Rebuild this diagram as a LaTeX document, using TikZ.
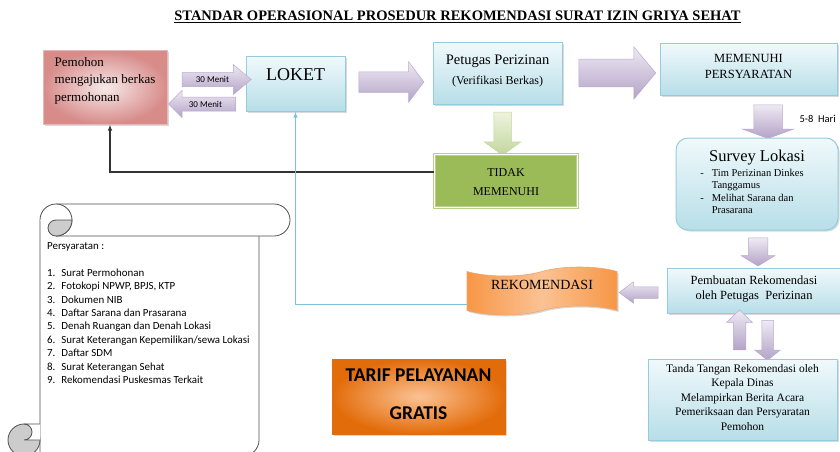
\documentclass[tikz,border=0pt]{standalone}
\usepackage{fontspec}
\setmainfont{Liberation Serif}
\newfontfamily\calibri{Carlito}
\usetikzlibrary{shapes.arrows,shapes.symbols,shadows,arrows.meta}

\definecolor{aqualine}{HTML}{93CDDD}
\definecolor{aquatop}{HTML}{F0F9FB}
\definecolor{aquabot}{HTML}{B7DEE8}
\definecolor{aquaconn}{HTML}{7DC3D5}
\definecolor{pinkdark}{HTML}{D78C8A}
\definecolor{pinklight}{HTML}{F7E9E9}
\definecolor{pinkline}{HTML}{E6B9B8}
\definecolor{lilactop}{HTML}{EEEAF3}
\definecolor{lilacbot}{HTML}{B3A2C7}
\definecolor{lilacline}{HTML}{B9A9CC}
\definecolor{olive}{HTML}{9BBB59}
\definecolor{olivetop}{HTML}{EEF3E0}
\definecolor{olivebot}{HTML}{C3D69B}
\definecolor{orangedark}{HTML}{E36C0A}
\definecolor{orangemid}{HTML}{F79646}
\definecolor{orangelight}{HTML}{FBC293}
\definecolor{scrollline}{HTML}{505050}
\definecolor{curlgray}{HTML}{CCCCCC}

\tikzset{
  boxshadow/.style={drop shadow={shadow xshift=1.5pt,shadow yshift=-1.5pt,opacity=.3}},
  aquabox/.style={draw=aqualine,line width=1pt,top color=aquatop,bottom color=aquabot,boxshadow},
  lilacarrow/.style={single arrow,draw=lilacline,line width=.5pt,top color=lilactop,bottom color=lilacbot,inner sep=0pt},
  scrollpart/.style={draw=scrollline,line width=.8pt}
}

\begin{document}
\begin{tikzpicture}[x=1pt,y=-1pt]
\useasboundingbox (0,0) rectangle (840,452);
\clip (0,0) rectangle (840,452);

\node[font=\bfseries\fontsize{14.5}{17}\selectfont] (judul) at (457.5,17)
  {\underline{STANDAR OPERASIONAL PROSEDUR REKOMENDASI SURAT IZIN GRIYA SEHAT}};

% baris atas
\node[draw=pinkline,line width=1pt,inner color=pinklight,outer color=pinkdark,boxshadow,
  minimum width=124pt,minimum height=73pt,align=left,
  font=\fontsize{13}{17.5}\selectfont,text depth=17pt] (pemohon) at (105,87.5)
  {Pemohon\\mengajukan berkas\\permohonan};
\node[aquabox,minimum width=99pt,minimum height=54pt,font=\fontsize{18}{20}\selectfont,
  text depth=19pt] (loket) at (295.5,84) {LOKET};
\node[aquabox,minimum width=129pt,minimum height=61pt,align=center,
  font=\fontsize{12}{20}\selectfont,text depth=8.6pt] (petugas) at (497.5,73.5)
  {{\fontsize{14.5}{17}\selectfont Petugas Perizinan}\\(Verifikasi Berkas)};
\node[aquabox,minimum width=177pt,minimum height=51pt,align=center,
  font=\fontsize{12.5}{16}\selectfont,text depth=6.3pt] (memenuhi) at (748.5,69.5)
  {MEMENUHI\\PERSYARATAN};

\node[lilacarrow,minimum height=69pt,inner xsep=1pt,inner ysep=3.5pt,text height=6.5pt,text depth=0pt,
  single arrow head extend=8pt,single arrow tip angle=80,font=\calibri\fontsize{9}{9}\selectfont]
  (kirim) at (212.5,79.5) {30 Menit};
\node[lilacarrow,shape border rotate=180,minimum height=67pt,inner xsep=1pt,inner ysep=3.5pt,
  text height=6.5pt,text depth=0pt,single arrow head extend=6.5pt,single arrow tip angle=90,
  font=\calibri\fontsize{9}{9}\selectfont] (balik) at (205.5,104) {30 Menit};
\node[lilacarrow,minimum height=65pt,inner sep=10pt,single arrow head extend=10pt,
  single arrow tip angle=106] (keverif) at (387.5,82) {};
\node[lilacarrow,minimum height=77pt,inner sep=13.5pt,single arrow head extend=12.5pt,
  single arrow tip angle=100] (kesyarat) at (611.5,73) {};

% cabang tidak memenuhi
\node[single arrow,shape border rotate=270,draw=olivebot,line width=.5pt,top color=olivetop,
  bottom color=olivebot,minimum height=43pt,inner sep=8.5pt,single arrow head extend=9.5pt,
  single arrow tip angle=108] (ketolak) at (502.5,130.5) {};
\node[draw=olive!70!white,double=white,double distance=.8pt,line width=1.4pt,fill=olive,boxshadow,
  minimum width=143pt,minimum height=53pt,align=center,font=\fontsize{12}{19}\selectfont,
  text height=30pt] (tidak) at (506,181) {TIDAK\\MEMENUHI};

% jalur kanan
\node[lilacarrow,shape border rotate=270,minimum height=28pt,inner sep=14pt,
  single arrow head extend=11.5pt,single arrow tip angle=140] (kesurvey) at (768,119) {};
\node[font=\calibri\fontsize{10.5}{12}\selectfont,anchor=west] (hari) at (796,119) {5-8\ \ Hari};
\node[aquabox,rounded corners=12pt,minimum width=162pt,minimum height=92pt,align=center,
  font=\fontsize{10.5}{12.5}\selectfont] (survey) at (757,184)
  {{\fontsize{16.5}{18}\selectfont Survey Lokasi}\\[2pt]
   \begin{tabular}[t]{@{}l@{\hspace{8pt}}l@{}}
   -&Tim Perizinan Dinkes\\&Tanggamus\\-&Melihat Sarana dan\\&Prasarana
   \end{tabular}\hspace*{10pt}};
\node[lilacarrow,shape border rotate=270,minimum height=28pt,inner sep=9.5pt,
  single arrow head extend=7pt,single arrow tip angle=117] (kebuat) at (758,249) {};
\node[aquabox,minimum width=174pt,minimum height=45pt,align=center,
  font=\fontsize{12.5}{15}\selectfont,text depth=6.3pt] (pembuatan) at (754,290.5)
  {Pembuatan Rekomendasi\\oleh Petugas\ \ Perizinan};
\node[lilacarrow,shape border rotate=180,minimum height=39pt,inner sep=5.5pt,
  single arrow head extend=5pt,single arrow tip angle=74] (kerekom) at (642.5,292.5) {};
\node[lilacarrow,shape border rotate=90,minimum height=40pt,inner sep=6pt,
  single arrow head extend=6.5pt,single arrow tip angle=92] (naik) at (739.5,333) {};
\node[lilacarrow,shape border rotate=270,minimum height=40pt,inner sep=5.5pt,
  single arrow head extend=7pt,single arrow tip angle=102] (turun) at (767.5,338) {};
\node[aquabox,minimum width=189pt,minimum height=81pt,align=center,
  font=\fontsize{11.5}{14.5}\selectfont,text depth=4pt] (ttd) at (742.5,399.5)
  {Tanda Tangan Rekomendasi oleh\\Kepala Dinas\\Melampirkan Berita Acara\\
   Pemeriksaan dan Persyaratan\\Pemohon};

\node[tape,draw=orangedark!60,line width=.6pt,left color=orangemid,right color=orangemid,
  middle color=orangelight,tape bend height=9pt,minimum width=150pt,minimum height=48pt,
  font=\fontsize{14}{16}\selectfont,text depth=12pt,boxshadow] (rekom) at (542,291) {REKOMENDASI};

\node[inner color=orangelight,outer color=orangedark,draw=orangedark,boxshadow,
  minimum width=173pt,minimum height=75pt,align=center,
  font=\calibri\bfseries\fontsize{19.5}{38}\selectfont,text depth=5pt] (tarif) at (418.5,396.5)
  {TARIF PELAYANAN\\GRATIS};

% garis balik
\draw[line width=1.1pt,black!80,-{Latex[length=6pt,width=4.5pt]}]
  ([yshift=9pt]tidak.west) -| ([xshift=5pt]pemohon.south);
\draw[line width=1.4pt,aquaconn,-{Latex[length=6pt,width=4.5pt]}]
  ([yshift=-13.5pt]rekom.west) -| (loket.south);

% gulungan persyaratan
\draw[scrollpart,fill=white] (259,236) -- (259,440) arc[start angle=0,end angle=90,radius=16]
  -- (40,456) -- (40,220);
\draw[scrollpart,fill=white] (56,204) -- (274,204) arc[start angle=-90,end angle=90,radius=16] -- (56,236);
\draw[scrollpart,fill=white] (56,236) arc[start angle=90,end angle=-180,radius=16];
\draw[scrollpart,fill=curlgray] (72,220) -- (56,220) arc[start angle=-90,end angle=-270,radius=8]
  arc[start angle=90,end angle=0,radius=16] -- cycle;
\draw[scrollpart,fill=curlgray] (24,440) circle[radius=16];
\draw[scrollpart,fill=white] (40,424) -- (24,424) arc[start angle=-90,end angle=90,radius=8] -- (40,440);
\node[anchor=north west,inner sep=0pt,font=\calibri\fontsize{10.9}{13.4}\selectfont] (syarat) at (47,240)
  {\begin{tabular}{@{}l@{\hspace{6pt}}l@{}}
   \multicolumn{2}{@{}l}{Persyaratan :}\\[13.4pt]
   1.&Surat Permohonan\\
   2.&Fotokopi NPWP, BPJS, KTP\\
   3.&Dokumen NIB\\
   4.&Daftar Sarana dan Prasarana\\
   5.&Denah Ruangan dan Denah Lokasi\\
   6.&Surat Keterangan Kepemilikan/sewa Lokasi\\
   7.&Daftar SDM\\
   8.&Surat Keterangan Sehat\\
   9.&Rekomendasi Puskesmas Terkait
   \end{tabular}};
\end{tikzpicture}
\end{document}
